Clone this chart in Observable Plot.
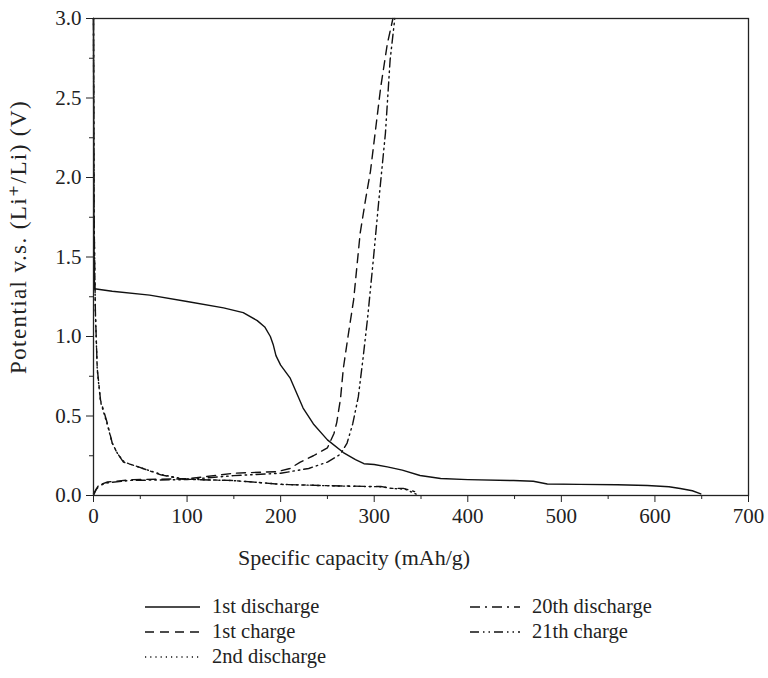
<!DOCTYPE html>
<html>
<head>
<meta charset="utf-8">
<script src="https://cdn.jsdelivr.net/npm/d3@7"></script>
<script src="https://cdn.jsdelivr.net/npm/@observablehq/plot@0.6"></script>
<style>
  body { margin: 0; background: #fff; }
  #wrap { position: relative; width: 768px; height: 678px; font-family: "Liberation Serif", "DejaVu Serif", serif; }
  #legend { position: absolute; left: 0; top: 0; width: 768px; height: 678px; pointer-events: none; }
  .item { position: absolute; display: flex; align-items: center; font-size: 20.5px; color: #222; }
  .item svg { margin-right: 12px; }
  .ylab text { letter-spacing: 1.4px; }
</style>
</head>
<body>
<div id="wrap"><div id="chart"></div><div id="legend"></div></div>
<script>
// Galvanostatic charge/discharge profiles: specific capacity (mAh/g) vs potential (V)
const discharge1X = [0, 0.5, 1, 20, 60, 100, 139, 160, 175, 183, 189, 192, 195, 200, 210, 224, 235, 250, 267, 280, 289, 300, 314, 330, 349, 371, 400, 449, 470, 485, 520, 560, 592, 615, 627, 640, 649];
const discharge1Y = [3.0, 1.6, 1.30, 1.285, 1.26, 1.22, 1.18, 1.15, 1.10, 1.06, 1.00, 0.95, 0.88, 0.82, 0.74, 0.55, 0.45, 0.35, 0.27, 0.225, 0.20, 0.195, 0.18, 0.16, 0.126, 0.107, 0.10, 0.094, 0.09, 0.072, 0.07, 0.068, 0.063, 0.055, 0.044, 0.03, 0.01];

const charge1X = [0, 3, 8, 15, 43, 100, 150, 196, 210, 221, 235, 250, 257, 260, 264, 267, 272, 278, 285, 291, 296, 307, 314, 320];
const charge1Y = [0.0, 0.04, 0.07, 0.085, 0.10, 0.105, 0.14, 0.15, 0.17, 0.21, 0.25, 0.30, 0.39, 0.46, 0.61, 0.80, 1.0, 1.23, 1.65, 1.87, 2.04, 2.57, 2.84, 3.0];

const discharge2X = [0, 0.5, 2, 4, 7.5, 15, 20, 26, 33, 50, 74, 95, 112, 148, 172, 202, 252, 295, 309, 319, 333, 348];
const discharge2Y = [3.0, 1.8, 1.15, 0.79, 0.59, 0.44, 0.33, 0.26, 0.21, 0.175, 0.13, 0.105, 0.10, 0.094, 0.084, 0.07, 0.061, 0.056, 0.055, 0.044, 0.04, 0.0];

const discharge20X = [0, 0.5, 2, 4, 7.5, 15, 20, 25, 32, 48, 72, 93, 110, 146, 170, 200, 250, 293, 307, 317, 331, 346];
const discharge20Y = [3.0, 1.8, 1.16, 0.80, 0.60, 0.45, 0.33, 0.27, 0.21, 0.18, 0.13, 0.105, 0.10, 0.095, 0.085, 0.07, 0.062, 0.057, 0.057, 0.045, 0.045, 0.02];

const charge21X = [0, 5, 15, 40, 100, 150, 200, 230, 250, 264, 271, 277, 283, 288, 293, 299, 305, 312, 317, 322];
const charge21Y = [0.01, 0.06, 0.08, 0.095, 0.10, 0.125, 0.14, 0.17, 0.21, 0.26, 0.33, 0.45, 0.62, 0.86, 1.12, 1.48, 1.86, 2.28, 2.74, 3.0];

const xMajor = [0, 100, 200, 300, 400, 500, 600, 700];
const xMinor = [50, 150, 250, 350, 450, 550, 650];
const yMajor = [0, 0.5, 1.0, 1.5, 2.0, 2.5, 3.0];
const yMinor = [0.25, 0.75, 1.25, 1.75, 2.25, 2.75];

const xTitle = "Specific capacity (mAh/g)";
const yTitle = "Potential v.s. (Li⁺/Li) (V)";

const series = [
  {name: "1st discharge", xs: discharge1X, ys: discharge1Y, dash: null},
  {name: "1st charge", xs: charge1X, ys: charge1Y, dash: "9,6"},
  {name: "2nd discharge", xs: discharge2X, ys: discharge2Y, dash: "1.2,4"},
  {name: "20th discharge", xs: discharge20X, ys: discharge20Y, dash: "10,5,2,5"},
  {name: "21th charge", xs: charge21X, ys: charge21Y, dash: "9,4,1.5,4,1.5,4"}
];

const toRows = s => s.xs.map((x, i) => ({x, y: s.ys[i]}));

const lineMarks = series.map(s => Plot.line(toRows(s), {
  x: "x", y: "y", stroke: "#111", strokeWidth: 1.4,
  strokeDasharray: s.dash ?? undefined, curve: "linear"
}));

const chart = Plot.plot({
  width: 768,
  height: 575,
  marginLeft: 93,
  marginRight: 20,
  marginTop: 18,
  marginBottom: 80,
  style: {fontFamily: "'Liberation Serif', 'DejaVu Serif', serif", fontSize: "21px", color: "#222", background: "#fff"},
  x: {domain: [0, 700]},
  y: {domain: [0, 3]},
  marks: [
    ...lineMarks,
    Plot.axisX({ticks: xMinor, tickSize: 4, tickFormat: () => "", label: null}),
    Plot.axisX({ticks: xMajor, tickSize: 7, tickPadding: 6, tickFormat: d => String(d), label: null}),
    Plot.axisY({ticks: yMinor, tickSize: 4, tickFormat: () => "", label: null}),
    Plot.axisY({ticks: yMajor, tickSize: 7, tickPadding: 5, tickFormat: d3.format(".1f"), label: null}),
    // axis titles
    Plot.text([xTitle], {frameAnchor: "bottom", textAnchor: "middle", lineAnchor: "middle", dx: -67, dy: 62, fontSize: 22, fill: "#222"}),
    Plot.text([yTitle], {frameAnchor: "left", textAnchor: "middle", lineAnchor: "middle", rotate: -90, dx: -75, dy: -20, fontSize: 23, fill: "#222", className: "ylab"}),
    Plot.frame({stroke: "#222", strokeWidth: 1.3})
  ]
});
document.getElementById("chart").appendChild(chart);

// Legend below the chart, two columns
const legend = document.getElementById("legend");
const slots = [
  {left: 145, top: 595, w: 55}, {left: 145, top: 620, w: 55}, {left: 145, top: 645, w: 55},
  {left: 470, top: 595, w: 50}, {left: 470, top: 620, w: 50}
];
series.forEach((s, i) => {
  const div = document.createElement("div");
  div.className = "item";
  div.style.left = slots[i].left + "px";
  div.style.top = slots[i].top + "px";
  const ns = "http://www.w3.org/2000/svg";
  const svg = document.createElementNS(ns, "svg");
  svg.setAttribute("width", slots[i].w); svg.setAttribute("height", 20);
  const ln = document.createElementNS(ns, "line");
  ln.setAttribute("x1", 0); ln.setAttribute("x2", slots[i].w);
  ln.setAttribute("y1", 10); ln.setAttribute("y2", 10);
  ln.setAttribute("stroke", "#111"); ln.setAttribute("stroke-width", 1.4);
  if (s.dash) ln.setAttribute("stroke-dasharray", s.dash);
  svg.appendChild(ln);
  div.appendChild(svg);
  const span = document.createElement("span");
  span.textContent = s.name;
  div.appendChild(span);
  legend.appendChild(div);
});
</script>
</body>
</html>
